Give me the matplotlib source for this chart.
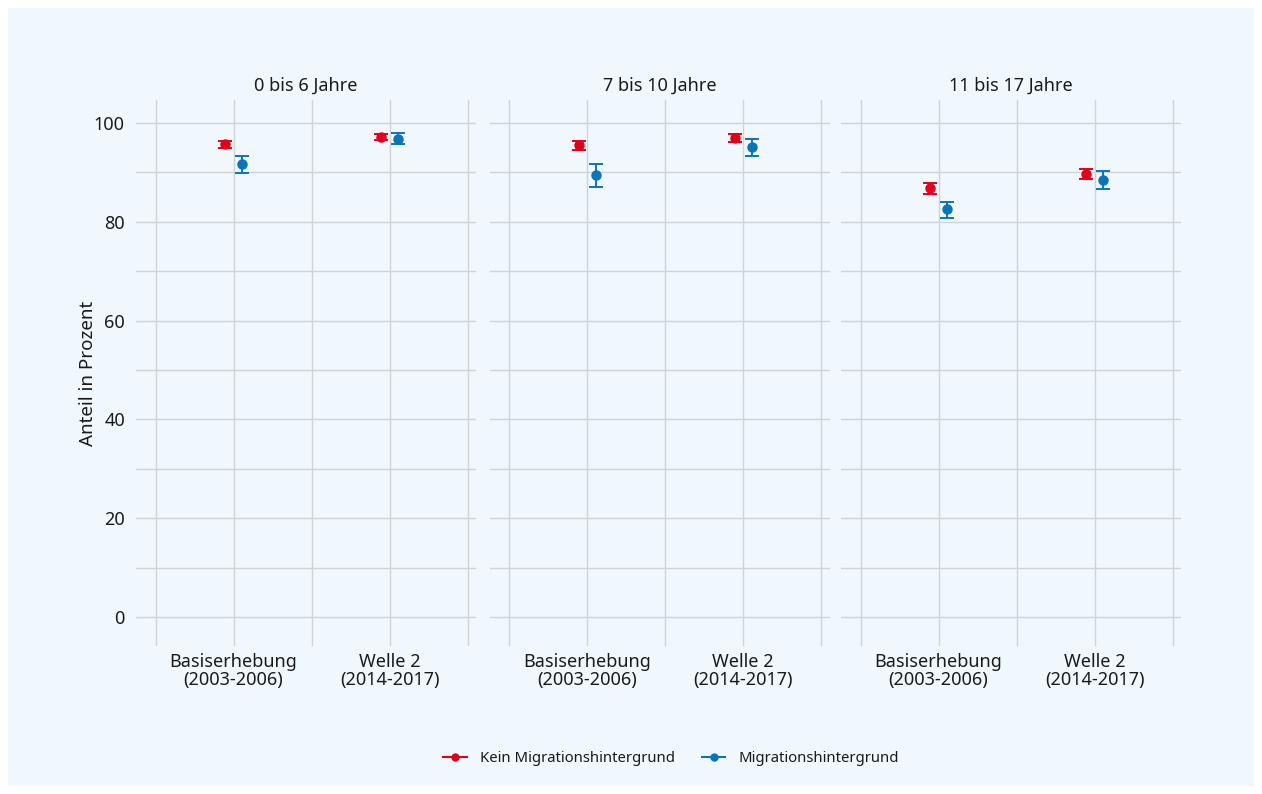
import matplotlib
matplotlib.use("Agg")
import matplotlib.pyplot as plt
from matplotlib.lines import Line2D
from matplotlib.patches import Rectangle
import numpy as np

plt.rcParams['font.family'] = ['Noto Sans', 'DejaVu Sans']

panels = ["0 bis 6 Jahre", "7 bis 10 Jahre", "11 bis 17 Jahre"]
categories = ["Basiserhebung\n(2003-2006)", "Welle 2\n(2014-2017)"]
series = ["Kein Migrationshintergrund", "Migrationshintergrund"]
colors = ["#E2001A", "#0A74B9"]

# values[panel][category]
kein_val = [[95.7, 97.2], [95.5, 96.9], [86.8, 89.7]]
kein_lo = [[94.9, 96.6], [94.6, 96.1], [85.7, 88.7]]
kein_hi = [[96.4, 97.8], [96.3, 97.8], [87.9, 90.7]]
mig_val = [[91.6, 96.8], [89.4, 95.1], [82.5, 88.5]]
mig_lo = [[89.9, 95.7], [87.1, 93.4], [80.7, 86.7]]
mig_hi = [[93.4, 98.0], [91.7, 96.8], [84.1, 90.2]]

W, H = 1262, 794
fig = plt.figure(figsize=(W / 100, H / 100), dpi=100)
fig.patch.set_facecolor("white")
bg = "#F0F8FE"
fig.add_artist(Rectangle((8 / W, 8 / H), (W - 16) / W, (H - 16) / H,
                         transform=fig.transFigure, facecolor=bg, edgecolor="none", zorder=0))

lefts = [136, 489.5, 841]
pw = 340
top, bottom = 100, 646
grid_c = "#D0D3D5"
txt = "#1a1a1a"
x = np.arange(1, len(categories) + 1)
dodge = 0.054
fs = 13

for i, title in enumerate(panels):
    ax = fig.add_axes([lefts[i] / W, (H - bottom) / H, pw / W, (bottom - top) / H])
    ax.set_facecolor("none")
    ax.set_xlim(0.375, 2.552)
    ax.set_ylim(-5.87, 104.65)
    ax.set_yticks([0, 20, 40, 60, 80, 100])
    ax.set_yticks([10, 30, 50, 70, 90], minor=True)
    ax.set_xticks(x)
    ax.set_xticks([0.5, 1.5, 2.5], minor=True)
    ax.grid(True, which="both", color=grid_c, linewidth=1.0)
    ax.set_axisbelow(True)
    for s in ax.spines.values():
        s.set_visible(False)
    ax.tick_params(which="both", length=0)
    ax.tick_params(axis="y", labelsize=fs, colors=txt, pad=8)
    ax.tick_params(axis="x", labelsize=fs, colors=txt, pad=5)
    ax.set_xticklabels(categories, linespacing=0.98)
    if i == 0:
        ax.set_ylabel("Anteil in Prozent", fontsize=13.5, color=txt, labelpad=-2)
    else:
        ax.set_yticklabels([])
    ax.set_title(title, fontsize=fs, color=txt, pad=7)

    for k, (val, lo, hi) in enumerate([(kein_val, kein_lo, kein_hi), (mig_val, mig_lo, mig_hi)]):
        v = np.array(val[i]); l = np.array(lo[i]); h = np.array(hi[i])
        off = -dodge if k == 0 else dodge
        ax.errorbar(x + off, v, yerr=[v - l, h - v], fmt="o", color=colors[k],
                    markersize=6.5, elinewidth=1.4, capsize=5, capthick=1.4, zorder=3)

handles = [Line2D([0], [0], color=c, marker="o", markersize=5, linewidth=1.5) for c in colors]
fig.legend(handles, series, loc="center", bbox_to_anchor=(671 / W, (H - 759) / H), ncol=2,
           frameon=False, fontsize=10.7, handlelength=1.6, columnspacing=1.8, handletextpad=0.9,
           labelcolor=txt)

fig.savefig("out.png", dpi=100, facecolor=fig.get_facecolor())
